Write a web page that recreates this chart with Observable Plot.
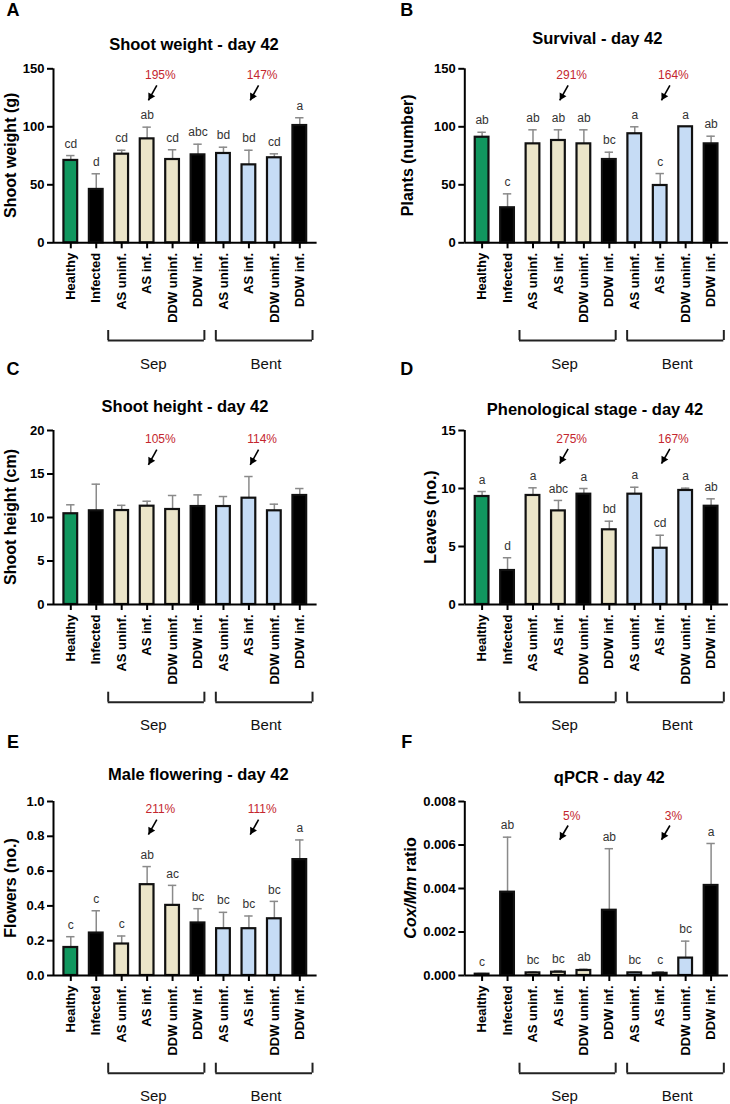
<!DOCTYPE html>
<html>
<head>
<meta charset="utf-8">
<script src="https://cdn.jsdelivr.net/npm/d3@7"></script>
<script src="https://cdn.jsdelivr.net/npm/@observablehq/plot@0.6"></script>
<style>
  body { margin: 0; background: #fff; }
  #fig { position: relative; width: 730px; height: 1104px; font-family: "Liberation Sans", Arial, sans-serif; }
  #fig svg { position: absolute; overflow: visible; background: transparent !important; }
</style>
</head>
<body>
<div id="fig"></div>
<script>
// Treatments (x categories), in plotting order
const treatments = ["Healthy", "Infected", "AS uninf.", "AS inf.", "DDW uninf.", "DDW inf.",
                    "AS uninf.", "AS inf.", "DDW uninf.", "DDW inf."];
const soilGroups = ["Sep", "Bent"];

// Bar fill category for each treatment
const barKind  = ["healthy", "dark", "sep", "sep", "sep", "dark", "bent", "bent", "bent", "dark"];
const barKindD = ["healthy", "dark", "sep", "sep", "dark", "sep", "bent", "bent", "bent", "dark"];

// A: shoot weight (g)
const shootWeight        = [71, 46, 76.4, 89.6, 71.8, 75.8, 77, 67.2, 73.3, 101.1];
const shootWeightErr     = [4.2, 13.5, 3.4, 10.1, 8.4, 9.2, 5.4, 12.6, 3.4, 6.7];
const shootWeightLetters = ["cd", "d", "cd", "ab", "cd", "abc", "bd", "bd", "cd", "a"];
const shootWeightPct     = ["195%", "147%"];

// B: survival (number of plants)
const survival        = [91, 30.2, 85.3, 88.2, 85.3, 71.8, 94, 49.4, 100, 85.3];
const survivalErr     = [4.3, 12, 12.1, 9.2, 12.1, 6.3, 6, 10.3, 0, 6.6];
const survivalLetters = ["ab", "c", "ab", "ab", "ab", "bc", "a", "c", "a", "ab"];
const survivalPct     = ["291%", "164%"];

// C: shoot height (cm)
const shootHeight    = [10.43, 10.77, 10.8, 11.3, 10.92, 11.26, 11.26, 12.22, 10.77, 12.53];
const shootHeightErr = [1.03, 3.06, 0.6, 0.57, 1.61, 1.34, 1.15, 2.49, 0.76, 0.8];
const shootHeightPct = ["105%", "114%"];

// D: phenological stage (leaves)
const leaves        = [9.31, 2.93, 9.4, 8.07, 9.51, 6.44, 9.51, 4.85, 9.83, 8.47];
const leavesErr     = [0.43, 1.1, 0.66, 0.9, 0.49, 0.74, 0.6, 1.12, 0.2, 0.64];
const leavesLetters = ["a", "d", "a", "abc", "a", "bd", "a", "cd", "a", "ab"];
const leavesPct     = ["275%", "167%"];

// E: male flowering (flowers)
const flowers        = [0.161, 0.244, 0.181, 0.522, 0.403, 0.302, 0.269, 0.269, 0.326, 0.666];
const flowersErr     = [0.062, 0.128, 0.046, 0.104, 0.115, 0.082, 0.094, 0.073, 0.1, 0.113];
const flowersLetters = ["c", "c", "c", "ab", "ac", "bc", "bc", "bc", "bc", "a"];
const flowersPct     = ["211%", "111%"];

// F: qPCR Cox/Mm ratio
const coxRatio        = [0.00006, 0.00383, 0.00012, 0.00015, 0.00023, 0.003, 0.00012, 0.0001, 0.0008, 0.00414];
const coxRatioErr     = [0.00003, 0.00253, 0.00004, 0.00007, 0.00006, 0.00283, 0.00003, 0.00007, 0.00078, 0.00193];
const coxLetters      = ["c", "ab", "bc", "bc", "ab", "ab", "bc", "c", "bc", "a"];
const coxPct          = ["5%", "3%"];

// Tick values for each y axis
const ticksA = [0, 50, 100, 150];
const ticksC = [0, 5, 10, 15, 20];
const ticksD = [0, 5, 10, 15];
const ticksE = [0, 0.2, 0.4, 0.6, 0.8, 1.0];
const ticksF = [0, 0.002, 0.004, 0.006, 0.008];

const kindColors = {
  domain: ["healthy", "dark", "sep", "bent"],
  range: ["#11975f", "#000000", "#ebe5c9", "#c6dcf5"]
};
const FONT = '"Liberation Sans", Arial, sans-serif';

const panels = [
  {id: "A", col: 0, row: 0, title: "Shoot weight - day 42", titleX: 194, titleY: 44.3,
   ylabel: [["Shoot weight (g)", false]], ylabelX: 10,
   values: shootWeight, errs: shootWeightErr, letters: shootWeightLetters, pcts: shootWeightPct,
   kinds: barKind, yMax: 150, ticks: ticksA, fmt: d3.format("d"), annot: [0.962, 0.905, 0.818]},
  {id: "B", col: 1, row: 0, title: "Survival - day 42", titleX: 597.3, titleY: 38.3,
   ylabel: [["Plants (number)", false]], ylabelX: 407.5,
   values: survival, errs: survivalErr, letters: survivalLetters, pcts: survivalPct,
   kinds: barKind, yMax: 150, ticks: ticksA, fmt: d3.format("d"), annot: [0.962, 0.905, 0.818]},
  {id: "C", col: 0, row: 1, title: "Shoot height - day 42", titleX: 185, titleY: 406,
   ylabel: [["Shoot height (cm)", false]], ylabelX: 10,
   values: shootHeight, errs: shootHeightErr, letters: null, pcts: shootHeightPct,
   kinds: barKind, yMax: 20, ticks: ticksC, fmt: d3.format("d"), annot: [0.948, 0.89, 0.803]},
  {id: "D", col: 1, row: 1, title: "Phenological stage - day 42", titleX: 595, titleY: 409,
   ylabel: [["Leaves (no.)", false]], ylabelX: 430,
   values: leaves, errs: leavesErr, letters: leavesLetters, pcts: leavesPct,
   kinds: barKindD, yMax: 15, ticks: ticksD, fmt: d3.format("d"), annot: [0.952, 0.895, 0.81]},
  {id: "E", col: 0, row: 2, title: "Male flowering - day 42", titleX: 198.3, titleY: 774.3,
   ylabel: [["Flowers (no.)", false]], ylabelX: 10,
   values: flowers, errs: flowersErr, letters: flowersLetters, pcts: flowersPct,
   kinds: barKind, yMax: 1, ticks: ticksE, fmt: d3.format(".1f"), annot: [0.954, 0.896, 0.81]},
  {id: "F", col: 1, row: 2, title: "qPCR - day 42", titleX: 609.3, titleY: 777.7,
   ylabel: [["Cox/Mm", true], [" ratio", false]], ylabelX: 410.5,
   values: coxRatio, errs: coxRatioErr, letters: coxLetters, pcts: coxPct,
   kinds: barKind, yMax: 0.008, ticks: ticksF, fmt: d3.format(".3f"), annot: [0.916, 0.862, 0.78]}
];

// Shared layout of every panel
const ROW_TOP = [0, 370, 740];
const ROW_H = [370, 370, 364];
const PLOT_TOP = [68.3, 60, 61];   // frame top inside each row
const PLOT_H = 174;
const PLOT_W = 263.6;
const AXIS_LEFT = [53, 99.3];      // y axis position inside each column
const X_DOMAIN = [-0.68, 9.68];
const STEP = PLOT_W / (X_DOMAIN[1] - X_DOMAIN[0]);
const BAR_HALF = 0.27;
const CAP_HALF = 0.165;
const LETTER_TOP = [16, 5, 8];     // baseline of the panel letter inside each row
const targets = [3, 7];            // the AS inf. bars of each soil group
const bracketLo = [1.47, 5.7], bracketHi = [5.25, 9.5], groupLabelX = [3.24, 7.67];
const ARROW_FROM = 0.38, ARROW_TO = 0.05, HEAD_R = 2.9;

const fig = document.getElementById("fig");
const idx = d3.range(treatments.length);

for (const p of panels) {
  const left = p.col * 365, top = ROW_TOP[p.row], H = ROW_H[p.row];
  const mt = PLOT_TOP[p.row], ml = AXIS_LEFT[p.col];
  const mr = 365 - ml - PLOT_W;
  const mb = H - mt - PLOT_H;
  const k = p.yMax / PLOT_H; // data units per pixel, for the decorations below the axis
  const withErr = idx.filter(i => p.errs[i] > 0);

  // direction of the annotation arrows in screen space, for the filled heads
  const adx = (ARROW_TO - ARROW_FROM) * STEP;
  const ady = (p.annot[1] - p.annot[2]) * PLOT_H;
  const alen = Math.hypot(adx, ady);
  const ux = adx / alen, uy = ady / alen;
  const headRot = Math.atan2(ux, -uy) * 180 / Math.PI;
  const tipBack = HEAD_R * 1.6;

  const marks = [
    // error bars (upper whisker only)
    Plot.ruleX(withErr, {x: i => i, y1: i => p.values[i], y2: i => p.values[i] + p.errs[i],
      stroke: "#8a8a8a", strokeWidth: 1.5}),
    Plot.ruleY(withErr, {y: i => p.values[i] + p.errs[i], x1: i => i - CAP_HALF, x2: i => i + CAP_HALF,
      stroke: "#8a8a8a", strokeWidth: 1.5}),
    // bars
    Plot.rectY(idx, {x1: i => i - BAR_HALF, x2: i => i + BAR_HALF, y1: 0, y2: i => p.values[i],
      fill: i => p.kinds[i], stroke: "#111", strokeWidth: 2.2}),
    // frame
    Plot.ruleY([0], {stroke: "#000", strokeWidth: 2}),
    Plot.ruleX([X_DOMAIN[0]], {stroke: "#000", strokeWidth: 2}),
    Plot.axisY({ticks: p.ticks, tickFormat: p.fmt, tickSize: 6, tickPadding: 3, strokeWidth: 2,
      stroke: "#000", fontSize: 13, fontWeight: "bold", fill: "#000", label: null}),
    Plot.axisX({ticks: idx, tickFormat: i => treatments[i], tickRotate: -90, tickSize: 6, tickPadding: 4,
      strokeWidth: 2, stroke: "#000", fontSize: 13, fontWeight: "bold", fill: "#000", label: null}),
    // soil group brackets
    Plot.ruleY([0, 1], {y: -97.7 * k, x1: g => bracketLo[g], x2: g => bracketHi[g], stroke: "#222", strokeWidth: 2}),
    Plot.ruleX([0, 1, 0, 1], {x: (g, j) => j < 2 ? bracketLo[g] : bracketHi[g], y1: -97.7 * k, y2: -87.7 * k,
      stroke: "#222", strokeWidth: 2}),
    Plot.text([0, 1], {x: g => groupLabelX[g], y: -121 * k, text: g => soilGroups[g], fontSize: 15, fill: "#111"}),
    // percentage annotations with arrows pointing at the AS inf. bars
    Plot.text([0, 1], {x: g => targets[g] + 0.52, y: p.annot[0] * p.yMax, text: g => p.pcts[g],
      fill: "#c4262e", fontSize: 12}),
    Plot.link([0, 1], {x1: g => targets[g] + ARROW_FROM, y1: p.annot[1] * p.yMax,
      x2: g => targets[g] + ARROW_TO, y2: p.annot[2] * p.yMax, stroke: "#000", strokeWidth: 1.6}),
    Plot.dot([0, 1], {x: g => targets[g] + ARROW_TO, y: p.annot[2] * p.yMax, symbol: "triangle",
      r: HEAD_R, fill: "#000", stroke: "none", rotate: headRot,
      dx: -ux * tipBack, dy: -uy * tipBack})
  ];
  if (p.letters) {
    marks.push(Plot.text(idx, {x: i => i, y: i => p.values[i] + p.errs[i], text: i => p.letters[i],
      dy: -11.7, fontSize: 12, fill: "#333", ariaLabel: "letters"}));
  }

  const svg = Plot.plot({
    width: 365, height: H,
    marginTop: mt, marginBottom: mb, marginLeft: ml, marginRight: mr,
    style: {fontFamily: FONT, background: "transparent"},
    x: {domain: X_DOMAIN, axis: null},
    y: {domain: [0, p.yMax], axis: null},
    color: kindColors,
    marks
  });
  svg.style.left = left + "px";
  svg.style.top = top + "px";
  fig.appendChild(svg);

  const s = d3.select(svg);
  // spaced significance letters
  s.selectAll('g[aria-label="letters"] text').style("letter-spacing", "2px");
  // panel letter
  s.append("text").attr("x", p.col === 0 ? 13 : 41.7).attr("y", LETTER_TOP[p.row])
    .attr("font-family", FONT).attr("font-weight", "bold").attr("font-size", 18).attr("fill", "#000")
    .text(p.id);
  // panel title
  s.append("text").attr("x", p.titleX - left).attr("y", p.titleY - top).attr("dy", "0.35em")
    .attr("text-anchor", "middle").attr("font-family", FONT).attr("font-weight", "bold")
    .attr("font-size", 16.5).attr("fill", "#000").text(p.title);
  // y axis label
  const yl = s.append("text")
    .attr("transform", `translate(${p.ylabelX - left},${mt + PLOT_H / 2}) rotate(-90)`)
    .attr("dy", "0.35em").attr("text-anchor", "middle").attr("font-family", FONT)
    .attr("font-weight", "bold").attr("font-size", 16).attr("fill", "#000");
  for (const [t, it] of p.ylabel) {
    yl.append("tspan").attr("font-style", it ? "italic" : "normal").text(t);
  }
}
</script>
</body>
</html>
